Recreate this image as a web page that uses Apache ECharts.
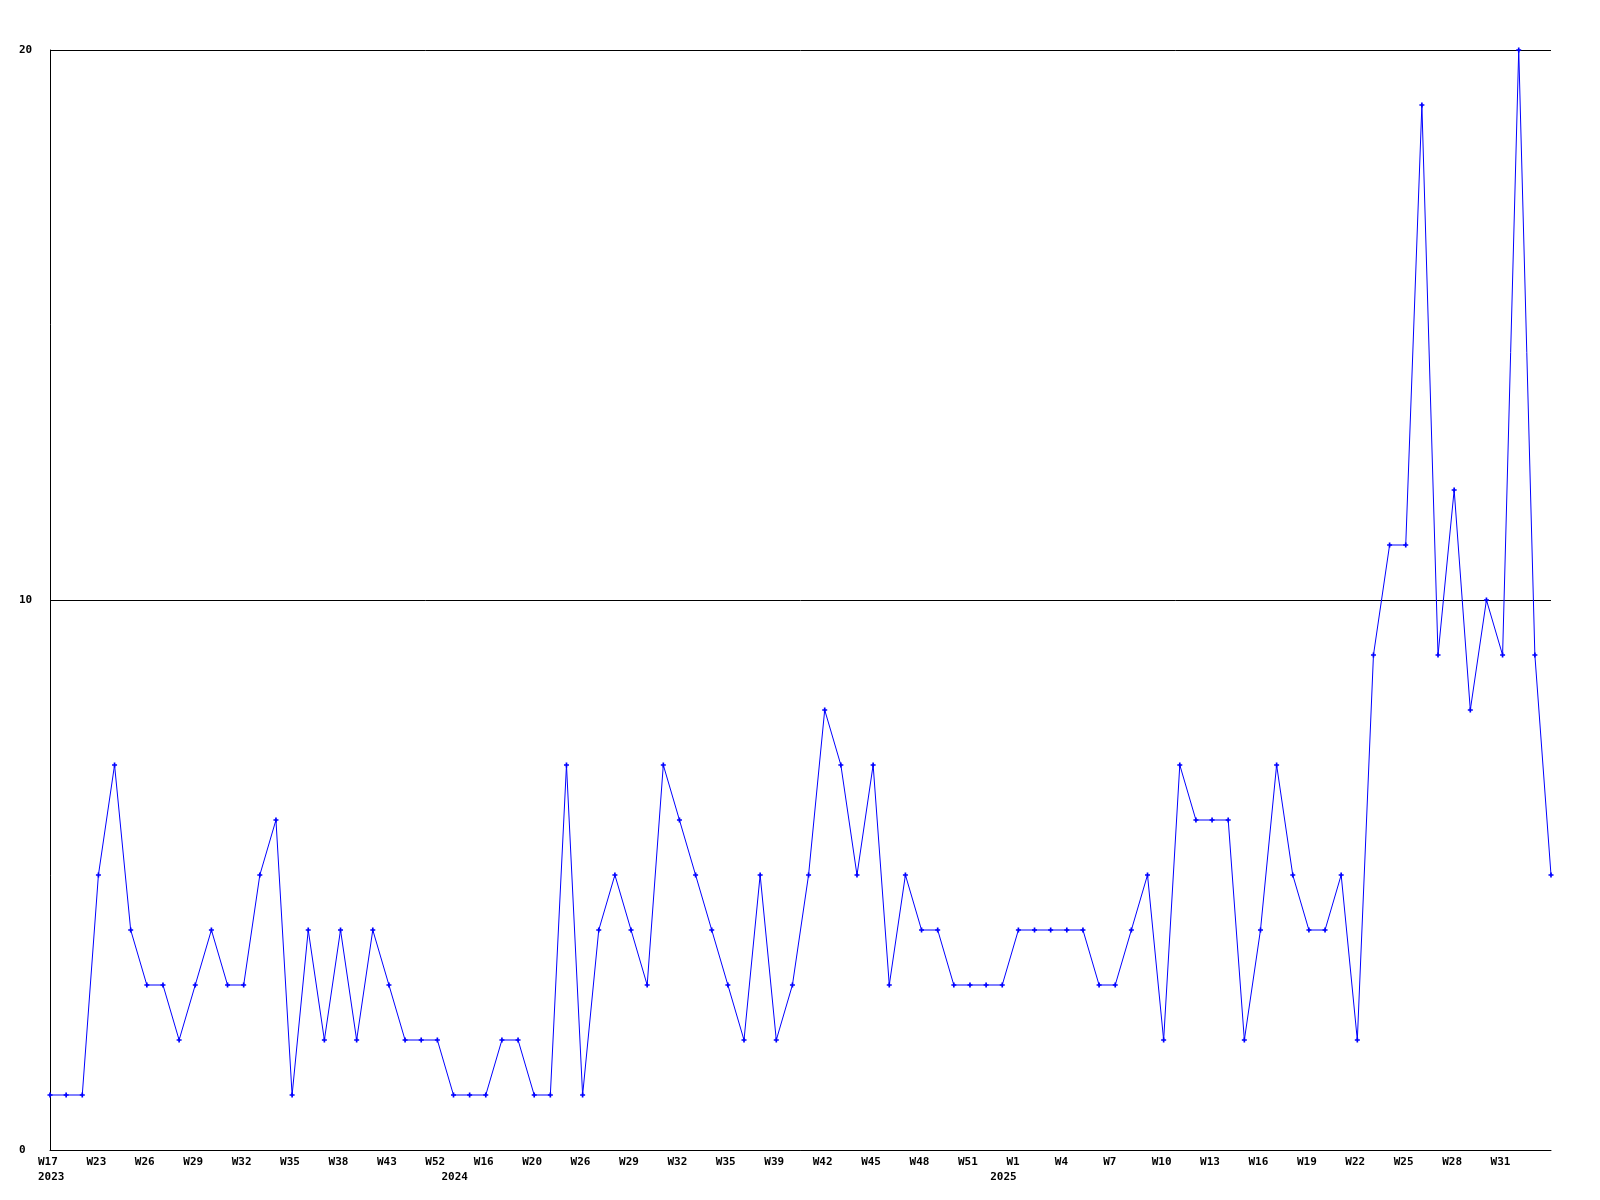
<!DOCTYPE html>
<html>
<head>
<meta charset="utf-8">
<script src="https://cdn.jsdelivr.net/npm/echarts@6/dist/echarts.min.js"></script>
<style>
html,body{margin:0;padding:0;background:#fff;}
#chart{width:1600px;height:1200px;}
</style>
</head>
<body>
<div id="chart"></div>
<script>
// Week categories (every third label is shown on the axis)
const weeks = [
  'W17','W20','W22','W23','W24','W25','W26','W27','W28','W29',
  'W30','W31','W32','W33','W34','W35','W36','W37','W38','W40',
  'W41','W43','W46','W49','W52','W2','W9','W16','W17','W18',
  'W20','W22','W24','W26','W27','W28','W29','W30','W31','W32',
  'W33','W34','W35','W36','W38','W39','W40','W41','W42','W43',
  'W44','W45','W46','W47','W48','W49','W50','W51','W52','W53',
  'W1','W2','W3','W4','W5','W6','W7','W8','W9','W10',
  'W11','W12','W13','W14','W15','W16','W17','W18','W19','W20',
  'W21','W22','W23','W24','W25','W26','W27','W28','W29','W30',
  'W31','W32','W33','W34'
];
// Year labels: index of first point of each year
const yearIndex = [0, 25, 59];
const yearLabels = ['2023', '2024', '2025'];

const values = [
  1,1,1,5,7,4,3,3,2,3,
  4,3,3,5,6,1,4,2,4,2,
  4,3,2,2,2,1,1,1,2,2,
  1,1,7,1,4,5,4,3,7,6,
  5,4,3,2,5,2,3,5,8,7,
  5,7,3,5,4,4,3,3,3,3,
  4,4,4,4,4,3,3,4,5,2,
  7,6,6,6,2,4,7,5,4,4,
  5,2,9,11,11,19,9,12,8,10,
  9,20,9,5
];

const yTicks = [0, 10, 20];

const FONT = 'DejaVu Sans Mono';
const chart = echarts.init(document.getElementById('chart'), null, {renderer: 'canvas'});

function yearAt(i) {
  const k = yearIndex.indexOf(i);
  return k >= 0 ? yearLabels[k] : null;
}
function showWeek(i) {
  return i % 3 === 0 && i < weeks.length - 1;
}

chart.setOption({
  animation: false,
  backgroundColor: '#ffffff',
  grid: {left: 50, right: 49, top: 50, bottom: 50, containLabel: false},
  xAxis: {
    type: 'category',
    data: weeks,
    boundaryGap: false,
    axisLine: {show: true, lineStyle: {color: '#000', width: 1}},
    axisTick: {show: false},
    splitLine: {show: false},
    axisLabel: {
      interval: function (i) { return showWeek(i) || yearAt(i) !== null; },
      margin: 5,
      formatter: function (v, i) {
        const w = showWeek(i) ? v : ' ';
        const y = yearAt(i);
        return '{a|' + w + '}' + (y ? '\n{a|' + y + '}' : '');
      },
      rich: {
        a: {
          width: 24, align: 'left', lineHeight: 15,
          fontFamily: FONT, fontWeight: 'bold', fontSize: 11, color: '#000'
        }
      }
    }
  },
  yAxis: {
    type: 'value',
    min: yTicks[0],
    max: yTicks[yTicks.length - 1],
    interval: 10,
    axisLine: {show: true, lineStyle: {color: '#000', width: 1}},
    axisTick: {show: false},
    splitLine: {show: true, lineStyle: {color: '#000', width: 1}},
    axisLabel: {
      align: 'left',
      margin: 31,
      fontFamily: FONT, fontWeight: 'bold', fontSize: 11, color: '#000'
    }
  },
  series: [{
    type: 'line',
    data: values,
    showAllSymbol: true,
    symbol: 'path://M2,0H4V2H6V4H4V6H2V4H0V2H2Z',
    symbolSize: 5,
    lineStyle: {color: '#0000ff', width: 1},
    itemStyle: {color: '#0000ff', borderWidth: 0},
    emphasis: {disabled: true}
  }]
});
</script>
</body>
</html>
